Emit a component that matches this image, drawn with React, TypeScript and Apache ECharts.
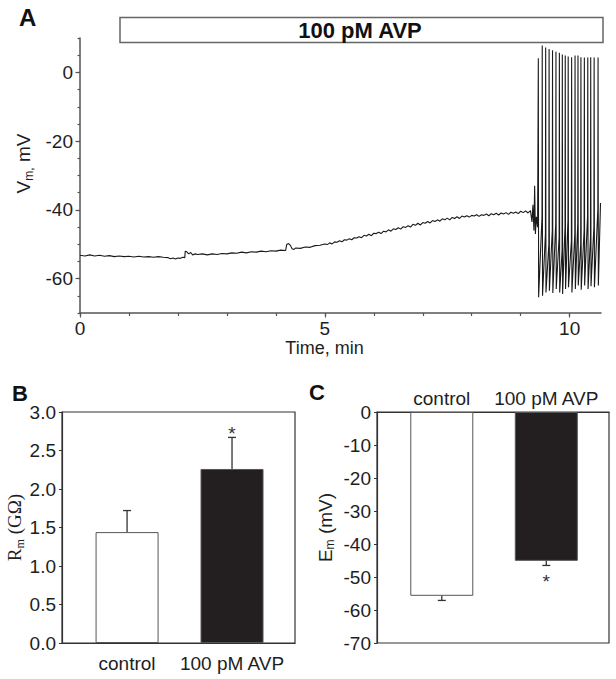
import React, { useEffect, useRef } from "react";
import * as echarts from "echarts";

const FONT = '"Liberation Sans", Arial, Helvetica, sans-serif';
const SERIF = '"Liberation Serif", "Times New Roman", serif';
const TEXT = "#1e1e1e";
const AXIS = "#555555";

// ---------- Panel A: membrane potential trace ----------
// [time (min), Vm (mV)] read from the recording before firing starts
const baselineTrace: [number, number][] = [
  [0.0, -53.2], [0.1, -53.4], [0.2, -53.1], [0.3, -53.4], [0.4, -53.2], [0.5, -53.5],
  [0.6, -53.3], [0.7, -53.6], [0.8, -53.4], [0.9, -53.6], [1.0, -53.5], [1.1, -53.7],
  [1.2, -53.5], [1.3, -53.7], [1.4, -53.6], [1.5, -53.8], [1.6, -53.6], [1.7, -53.8],
  [1.8, -53.9], [1.85, -54.2], [1.9, -54.0], [1.95, -54.3], [2.0, -54.0], [2.05, -54.1],
  [2.1, -53.8], [2.14, -53.9], [2.15, -52.0], [2.18, -52.2], [2.22, -52.8], [2.26, -52.4],
  [2.3, -53.1], [2.35, -52.8], [2.4, -53.0], [2.5, -52.8], [2.6, -53.1], [2.7, -52.8],
  [2.8, -53.0], [2.9, -52.7], [3.0, -52.8], [3.1, -52.5], [3.2, -52.6], [3.3, -52.3],
  [3.4, -52.5], [3.5, -52.2], [3.6, -52.3], [3.7, -52.0], [3.8, -52.2], [3.9, -51.9],
  [4.0, -52.0], [4.1, -51.7], [4.2, -51.8], [4.22, -50.1], [4.26, -49.8], [4.3, -50.4],
  [4.33, -51.3], [4.37, -51.5], [4.4, -51.1], [4.5, -51.2], [4.6, -50.8], [4.7, -50.9],
  [4.8, -50.4], [4.9, -50.3], [5.0, -49.9], [5.05, -50.1], [5.1, -49.6], [5.15, -49.9],
  [5.2, -49.3], [5.25, -49.4], [5.3, -49.0], [5.35, -49.3], [5.4, -48.7], [5.45, -48.8],
  [5.5, -48.4], [5.55, -48.7], [5.6, -48.1], [5.65, -48.2], [5.7, -47.8], [5.75, -48.1],
  [5.8, -47.4], [5.85, -47.6], [5.9, -47.1], [5.95, -47.5], [6.0, -46.8], [6.05, -46.9],
  [6.1, -46.5], [6.15, -46.9], [6.2, -46.2], [6.25, -46.4], [6.3, -45.8], [6.35, -46.2],
  [6.4, -45.5], [6.45, -45.7], [6.5, -45.2], [6.55, -45.6], [6.6, -44.9], [6.65, -45.1],
  [6.7, -44.6], [6.75, -45.0], [6.8, -44.2], [6.85, -44.5], [6.9, -43.9], [6.95, -44.4],
  [7.0, -43.7], [7.05, -43.9], [7.1, -43.4], [7.15, -43.8], [7.2, -43.1], [7.25, -43.4],
  [7.3, -42.9], [7.35, -43.3], [7.4, -42.6], [7.45, -42.9], [7.5, -42.4], [7.55, -42.9],
  [7.6, -42.2], [7.65, -42.5], [7.7, -42.0], [7.75, -42.5], [7.8, -41.8], [7.85, -42.1],
  [7.9, -41.7], [7.95, -42.1], [8.0, -41.6], [8.05, -41.8], [8.1, -41.4], [8.15, -41.9],
  [8.2, -41.4], [8.25, -41.6], [8.3, -41.2], [8.35, -41.7], [8.4, -41.1], [8.45, -41.4],
  [8.5, -41.0], [8.55, -41.5], [8.6, -40.9], [8.65, -41.2], [8.7, -40.8], [8.75, -41.3],
  [8.8, -40.7], [8.85, -41.0], [8.9, -40.6], [8.95, -41.1], [9.0, -40.4], [9.05, -40.8],
  [9.1, -40.3], [9.15, -40.9], [9.2, -40.2],
];
// oscillation right before the first action potential
const preSpikeTrace: [number, number][] = [
  [9.23, -43.5], [9.25, -38.5], [9.27, -46.0], [9.285, -33.0], [9.3, -47.0], [9.32, -42.0], [9.345, -45.0],
];
// action potentials: time of peak, peak, after-hyperpolarisation trough, level before upstroke
const spikeTimes = [9.36, 9.44, 9.51, 9.58, 9.65, 9.72, 9.79, 9.85, 9.91, 9.97, 10.04, 10.11, 10.17, 10.23, 10.3, 10.37, 10.43, 10.5, 10.58];
const spikePeaks = [4.1, 7.8, 7.2, 6.8, 6.4, 6.0, 5.7, 5.2, 4.9, 4.6, 4.4, 4.9, 4.9, 4.4, 4.3, 4.3, 4.4, 4.3, 4.3];
const spikeTroughs = [-65.4, -65.0, -64.0, -63.5, -64.2, -63.0, -64.0, -64.5, -63.0, -62.5, -64.0, -63.0, -62.0, -63.2, -62.0, -63.0, -62.2, -62.5, -62.0];
const spikeThresholds = [-45.0, -42.0, -47.0, -50.0, -46.0, -44.0, -48.0, -52.0, -45.0, -43.0, -49.0, -47.0, -44.0, -50.0, -46.0, -42.0, -48.0, -45.0, -40.0];
const endTrace: [number, number][] = [[10.63, -38.0]];

const timeTickValues = [0, 1, 2, 3, 4, 5, 6, 7, 8, 9, 10];
const timeLabelValues = [0, 5, 10];
const vmTickValues = [-70, -65, -60, -55, -50, -45, -40, -35, -30, -25, -20, -15, -10, -5, 0, 5, 10];
const vmLabelValues = [-60, -40, -20, 0];
const drugLabel = "100 pM AVP";

// ---------- Panels B and C: bar summaries ----------
const barCategories = ["control", "100 pM AVP"];
const barFills = ["#ffffff", "#231f20"];
const rmMeans = [1.44, 2.26];
const rmErrors = [0.28, 0.41];
const rmSignificant = [0, 1];
const emMeans = [-55.7, -45.1];
const emErrors = [-1.4, -1.4];
const emSignificant = [0, 1];

function buildTrace(): [number, number][] {
  const out: [number, number][] = [...baselineTrace, ...preSpikeTrace];
  for (let i = 0; i < spikeTimes.length; i++) {
    out.push([spikeTimes[i] - 0.005, spikeThresholds[i]]);
    out.push([spikeTimes[i], spikePeaks[i]]);
    out.push([spikeTimes[i] + 0.006, spikeTroughs[i]]);
  }
  return out.concat(endTrace);
}

function errorBarRender(starOffset: number) {
  return (_params: any, api: any) => {
    const x = api.value(0);
    const p0 = api.coord([x, api.value(1)]);
    const p1 = api.coord([x, api.value(2)]);
    const st = { stroke: "#333", lineWidth: 1.3 };
    const children: any[] = [
      { type: "line", shape: { x1: p0[0], y1: p0[1], x2: p1[0], y2: p1[1] }, style: st },
      { type: "line", shape: { x1: p1[0] - 4, y1: p1[1], x2: p1[0] + 4, y2: p1[1] }, style: st },
    ];
    if (api.value(3)) {
      children.push({
        type: "text",
        style: {
          text: "*", x: p1[0], y: p1[1] + starOffset, align: "center", verticalAlign: "middle",
          fontSize: 19, fontFamily: FONT, fill: "#333",
        },
      });
    }
    return { type: "group", children };
  };
}

const nameRich = (family: string) => ({
  a: { fontSize: 19, fontFamily: family, color: TEXT, lineHeight: 22 },
  s: { fontSize: 12, fontFamily: family, color: TEXT, lineHeight: 12, verticalAlign: "bottom" },
});

export default function App() {
  const ref = useRef<HTMLDivElement>(null);
  useEffect(() => {
    if (!ref.current) return;
    const chart = echarts.init(ref.current, undefined, { renderer: "svg" });
    const label = { fontSize: 19, fontFamily: FONT, color: TEXT };
    const catFmt = (v: number) => barCategories[Math.round(v)] ?? "";
    const trace = buildTrace();

    const option: any = {
      animation: false,
      grid: [
        { left: 80, top: 38, width: 521, height: 275 },
        { left: 62, top: 412, width: 233, height: 231, show: true, borderColor: "#333", borderWidth: 1.2, backgroundColor: "transparent" },
        { left: 377, top: 412, width: 232, height: 231, show: true, borderColor: "#333", borderWidth: 1.2, backgroundColor: "transparent" },
      ],
      xAxis: [
        {
          type: "value", gridIndex: 0, min: 0, max: 10.64, position: "bottom",
          axisLine: { onZero: false, lineStyle: { color: AXIS, width: 1.5 } },
          axisTick: { show: true, length: 3, customValues: timeTickValues, lineStyle: { color: AXIS, width: 1.2 } },
          axisLabel: { ...label, margin: 6, customValues: timeLabelValues, formatter: (v: number) => String(v) },
          splitLine: { show: false },
          name: "Time, min", nameLocation: "middle", nameGap: 25,
          nameTextStyle: { fontSize: 18, fontFamily: FONT, color: TEXT, padding: [0, 32, 0, 0] },
        },
        {
          type: "value", gridIndex: 0, min: 0, max: 10.64, position: "bottom",
          axisLine: { show: false, onZero: false },
          axisTick: { show: true, length: 4.5, customValues: timeLabelValues, lineStyle: { color: AXIS, width: 1.2 } },
          axisLabel: { show: false }, splitLine: { show: false },
        },
        {
          type: "value", gridIndex: 1, min: -0.62, max: 1.6, position: "bottom",
          axisLine: { onZero: false, lineStyle: { color: "#333", width: 1.2 } },
          axisTick: { show: false },
          axisLabel: { ...label, margin: 11, customValues: [0, 1], formatter: catFmt },
          splitLine: { show: false },
        },
        {
          type: "value", gridIndex: 2, min: -0.62, max: 1.6, position: "top",
          axisLine: { onZero: false, lineStyle: { color: "#333", width: 1.2 } },
          axisTick: { show: false },
          axisLabel: { ...label, margin: 4, customValues: [0, 1], formatter: catFmt },
          splitLine: { show: false },
        },
      ],
      yAxis: [
        {
          type: "value", gridIndex: 0, min: -70, max: 10, position: "left",
          axisLine: { show: true, onZero: false, lineStyle: { color: AXIS, width: 1.5 } },
          axisTick: { show: true, length: 2.5, customValues: vmTickValues, lineStyle: { color: AXIS, width: 1.2 } },
          axisLabel: { ...label, margin: 7, customValues: vmLabelValues, formatter: (v: number) => String(v) },
          splitLine: { show: false },
          name: "{a|V}{s|m,}{a| mV}", nameLocation: "middle", nameGap: 36, nameRotate: 90,
          nameTextStyle: { rich: nameRich(FONT), padding: [0, 0, 0, 24] },
        },
        {
          type: "value", gridIndex: 0, min: -70, max: 10, position: "left",
          axisLine: { show: false, onZero: false },
          axisTick: { show: true, length: 4.5, customValues: vmLabelValues, lineStyle: { color: AXIS, width: 1.2 } },
          axisLabel: { show: false }, splitLine: { show: false },
        },
        {
          type: "value", gridIndex: 1, min: 0, max: 3, interval: 0.5, position: "left",
          axisLine: { show: true, onZero: false, lineStyle: { color: "#333", width: 1.2 } },
          axisTick: { show: true, length: 3, lineStyle: { color: "#333" } },
          axisLabel: { ...label, margin: 6, formatter: (v: number) => v.toFixed(1) },
          splitLine: { show: false },
          name: "{a|R}{s|m}{a| (GΩ)}", nameLocation: "middle", nameGap: 33, nameRotate: 90,
          nameTextStyle: { rich: nameRich(SERIF) },
        },
        {
          type: "value", gridIndex: 2, min: -70, max: 0, interval: 10, position: "left",
          axisLine: { show: true, onZero: false, lineStyle: { color: "#333", width: 1.2 } },
          axisTick: { show: true, length: 3, lineStyle: { color: "#333" } },
          axisLabel: { ...label, margin: 6 },
          splitLine: { show: false },
          name: "{a|E}{s|m}{a| (mV)}", nameLocation: "middle", nameGap: 41, nameRotate: 90,
          nameTextStyle: { rich: nameRich(FONT) },
        },
      ],
      series: [
        {
          type: "line", xAxisIndex: 0, yAxisIndex: 0, data: trace, symbol: "none", showSymbol: false,
          lineStyle: { color: "#1a1a1a", width: 1.1 }, z: 3,
        },
        {
          type: "bar", xAxisIndex: 2, yAxisIndex: 2, barWidth: 63,
          data: rmMeans.map((v, i) => ({ value: [i, v], itemStyle: { color: barFills[i], borderColor: "#555", borderWidth: 1 } })),
        },
        {
          type: "custom", xAxisIndex: 2, yAxisIndex: 2, renderItem: errorBarRender(-4), z: 5,
          data: rmMeans.map((v, i) => [i, v, v + rmErrors[i], rmSignificant[i]]),
        },
        {
          type: "bar", xAxisIndex: 3, yAxisIndex: 3, barWidth: 63,
          data: emMeans.map((v, i) => ({ value: [i, v], itemStyle: { color: barFills[i], borderColor: "#555", borderWidth: 1 } })),
        },
        {
          type: "custom", xAxisIndex: 3, yAxisIndex: 3, renderItem: errorBarRender(16), z: 5,
          data: emMeans.map((v, i) => [i, v, v + emErrors[i], emSignificant[i]]),
        },
      ],
      graphic: [
        { type: "text", left: 19, top: 5, style: { text: "A", fontSize: 24, fontWeight: "bold", fontFamily: FONT, fill: "#111" } },
        { type: "rect", shape: { x: 120, y: 17.5, width: 483, height: 25 }, style: { fill: "#fff", stroke: "#666", lineWidth: 1.5 } },
        {
          type: "text", x: 360, y: 30.5,
          style: { text: drugLabel, fontSize: 22, fontWeight: "bold", fontFamily: FONT, fill: "#111", align: "center", verticalAlign: "middle" },
        },
        { type: "text", left: 12, top: 382, style: { text: "B", fontSize: 22, fontWeight: "bold", fontFamily: FONT, fill: "#111" } },
        { type: "text", left: 309, top: 381, style: { text: "C", fontSize: 22, fontWeight: "bold", fontFamily: FONT, fill: "#111" } },
      ],
    };
    chart.setOption(option);
    return () => chart.dispose();
  }, []);

  return (
    <div
      ref={ref}
      style={{ position: "fixed", left: 0, top: 0, width: 616, height: 679, background: "#fff" }}
    />
  );
}
